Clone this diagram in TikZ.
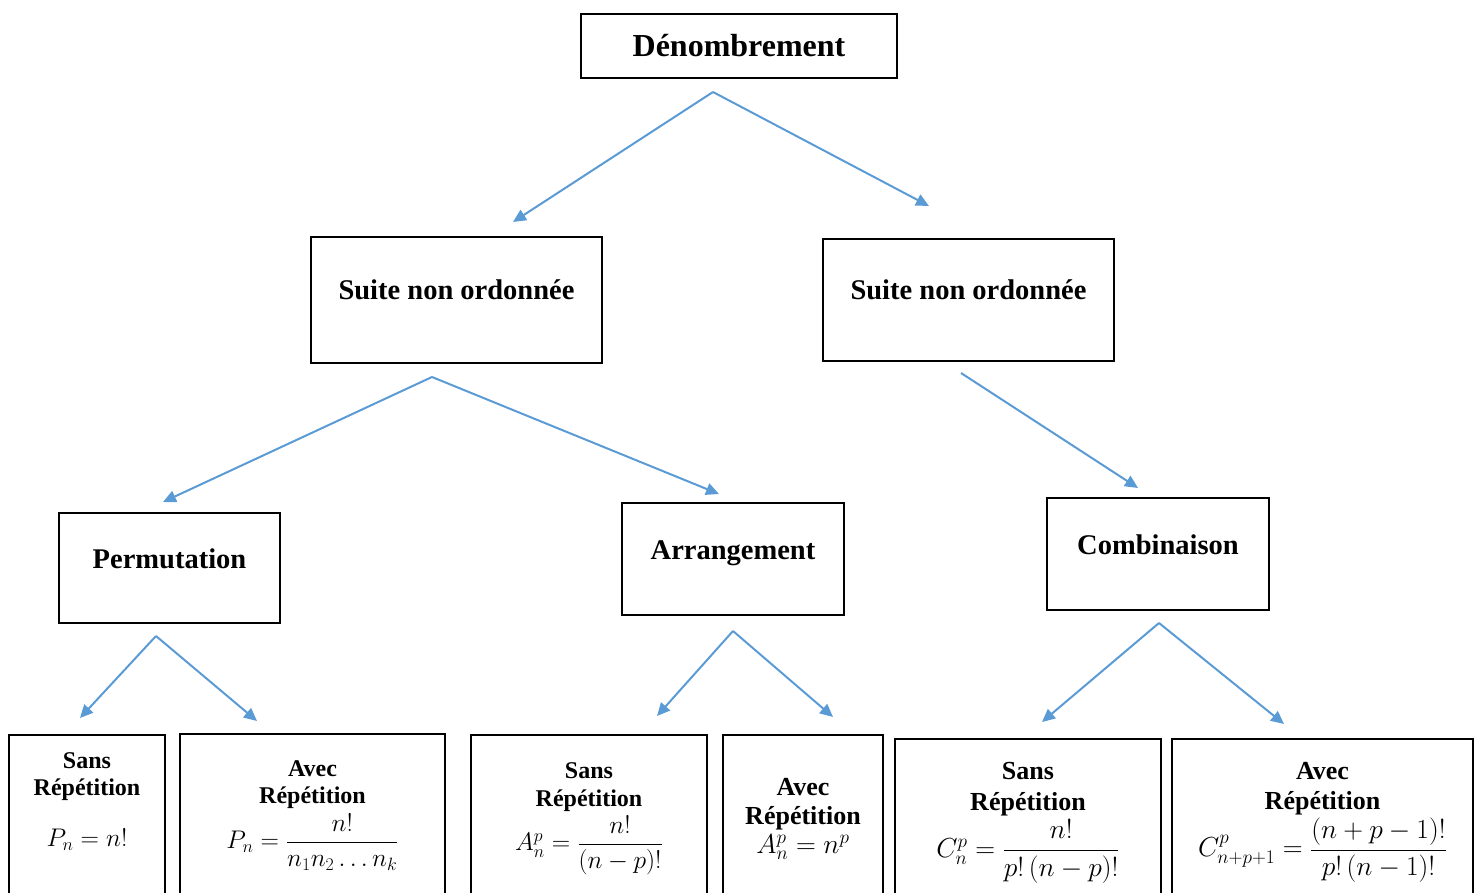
\RequirePackage{fix-cm}
\documentclass[tikz,border=0pt]{standalone}
\usepackage{amsmath}
\usepackage{fontspec}
\setmainfont{Liberation Serif}
\usetikzlibrary{arrows.meta}
\definecolor{bleu}{RGB}{91,155,213}

\begin{document}
\begin{tikzpicture}[x=1pt, y=-1pt]
  \tikzset{
    boite/.style={draw, line width=2pt, inner sep=0pt, font=\fontsize{28.5}{34}\selectfont\bfseries},
    sous/.style={draw, line width=2pt, anchor=north, align=center, inner xsep=0pt, text depth=260pt},
    fleche/.style={bleu, line width=2pt, -{Triangle[length=13pt, width=12pt]}}
  }
  \useasboundingbox (0,0) rectangle (1480,893);
  \clip (0,0) rectangle (1480,893);

  % Racine
  \node[boite, minimum width=316pt, minimum height=64pt, font=\fontsize{32}{38}\selectfont\bfseries]
    (den) at (739,46) {Dénombrement};

  % Deuxieme niveau
  \node[boite, minimum width=291pt, text height=62pt, text depth=64pt] (sno1) at (456.5,300) {Suite non ordonnée};
  \node[boite, minimum width=291pt, text height=60pt, text depth=61pt] (sno2) at (968.5,300) {Suite non ordonnée};

  % Troisieme niveau
  \node[boite, minimum width=221pt, text height=55pt, text depth=55pt] (perm) at (169.5,568) {Permutation};
  \node[boite, minimum width=222pt, text height=56pt, text depth=56pt] (arr) at (733,559) {Arrangement};
  \node[boite, minimum width=222pt, text height=56pt, text depth=56pt] (comb) at (1158,554) {Combinaison};

  % Formules
  \node[sous, minimum width=156pt, inner ysep=18pt, font=\fontsize{24}{27}\selectfont\bfseries] (ps) at (87,734)
    {Sans\\Répétition\\[24pt] \fontsize{25.5}{30}\selectfont $P_n = n!$};
  \node[sous, minimum width=265pt, inner ysep=27pt, font=\fontsize{24}{27}\selectfont\bfseries] (pa) at (312.5,733)
    {Avec\\Répétition\\[4pt] \fontsize{25.5}{30}\selectfont $P_n = \dfrac{n!}{n_1 n_2 \ldots n_k}$};
  \node[sous, minimum width=236pt, inner ysep=28pt, font=\fontsize{24}{28}\selectfont\bfseries] (as) at (589,734)
    {Sans\\Répétition\\[3pt] \fontsize{25.5}{30}\selectfont $A_n^p = \dfrac{n!}{(n-p)!}$};
  \node[sous, minimum width=160pt, inner ysep=43pt, font=\fontsize{26}{29}\selectfont\bfseries] (aa) at (803,734)
    {Avec\\Répétition\\ \fontsize{27.5}{29}\selectfont $A_n^p = n^p$};
  \node[sous, minimum width=266pt, inner ysep=23pt, font=\fontsize{26}{31}\selectfont\bfseries] (cs) at (1028,738)
    {Sans\\Répétition\\[3pt] \fontsize{27.5}{31}\selectfont $C_n^p = \dfrac{n!}{p!\,(n-p)!}$};
  \node[sous, minimum width=301pt, inner ysep=23pt, font=\fontsize{26}{30}\selectfont\bfseries] (ca) at (1322.5,738)
    {Avec\\Répétition\\[2pt] \fontsize{27.5}{30}\selectfont $C_{n+p+1}^p = \dfrac{(n+p-1)!}{p!\,(n-1)!}$};

  % Points de depart et d'arrivee des fleches
  \coordinate (den-bas) at (713,92);
  \coordinate (sno1-haut) at (513,222);
  \coordinate (sno2-haut) at (929,206);
  \coordinate (sno1-bas) at (432,377);
  \coordinate (perm-haut) at (163,502);
  \coordinate (arr-haut) at (719,494);
  \coordinate (sno2-bas) at (961,373);
  \coordinate (comb-haut) at (1138,488);
  \coordinate (perm-bas) at (156,636);
  \coordinate (ps-haut) at (80,718);
  \coordinate (pa-haut) at (257,721);
  \coordinate (arr-bas) at (733,631);
  \coordinate (as-haut) at (657,716);
  \coordinate (aa-haut) at (833,717);
  \coordinate (comb-bas) at (1159,623);
  \coordinate (cs-haut) at (1042,722);
  \coordinate (ca-haut) at (1284,724);

  % Fleches
  \draw[fleche] (den-bas) -- (sno1-haut);
  \draw[fleche] (den-bas) -- (sno2-haut);
  \draw[fleche] (sno1-bas) -- (perm-haut);
  \draw[fleche] (sno1-bas) -- (arr-haut);
  \draw[fleche] (sno2-bas) -- (comb-haut);
  \draw[fleche] (perm-bas) -- (ps-haut);
  \draw[fleche] (perm-bas) -- (pa-haut);
  \draw[fleche] (arr-bas) -- (as-haut);
  \draw[fleche] (arr-bas) -- (aa-haut);
  \draw[fleche] (comb-bas) -- (cs-haut);
  \draw[fleche] (comb-bas) -- (ca-haut);
\end{tikzpicture}
\end{document}
